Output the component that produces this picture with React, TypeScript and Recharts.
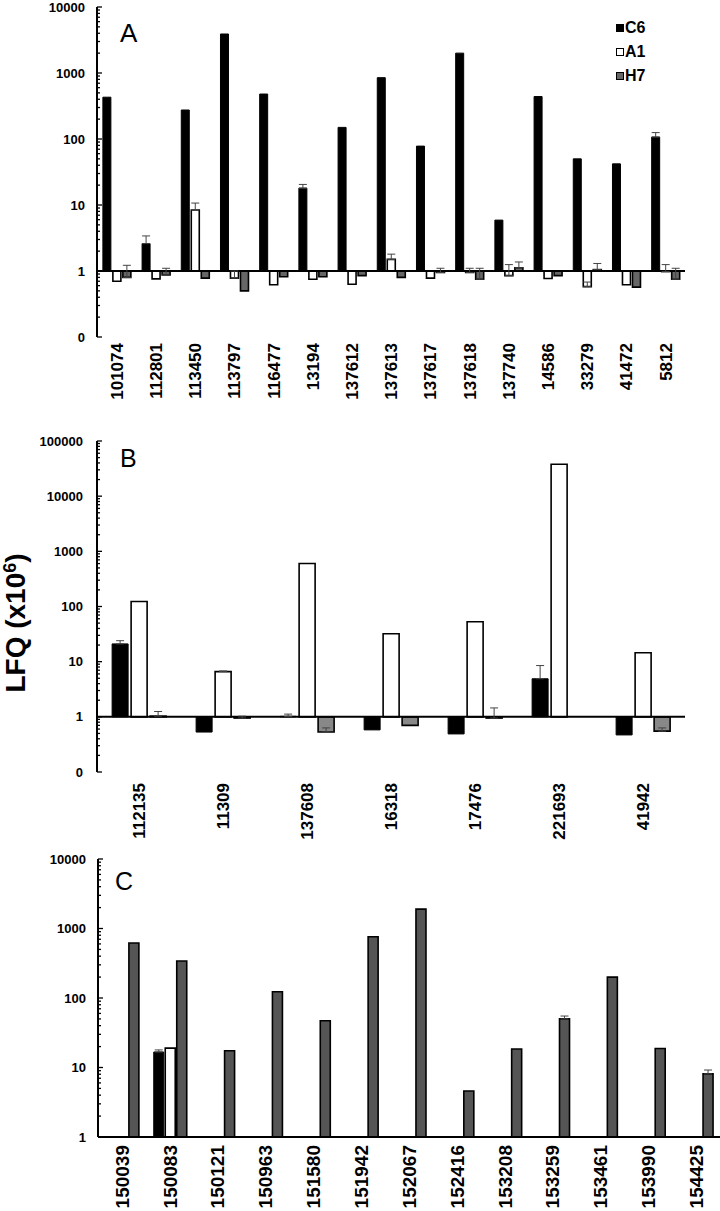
import { BarChart, Bar, XAxis, YAxis, ErrorBar, ReferenceLine, Legend } from 'recharts'

const FONT = '"Liberation Sans", Arial, sans-serif'

// Panel A
const catsA = ['101074', '112801', '113450', '113797', '116477', '13194', '137612', '137613', '137617', '137618', '137740', '14586', '33279', '41472', '5812']
const c6A = [430, 2.6, 275, 3900, 480, 18, 150, 850, 78, 2000, 5.9, 440, 50, 42, 107]
const a1A = [0.7, 0.76, 8.4, 0.78, 0.62, 0.75, 0.63, 1.5, 0.78, 0.95, 0.85, 0.77, 0.58, 0.62, 0.98]
const h7A = [0.8, 0.87, 0.78, 0.5, 0.82, 0.82, 0.85, 0.8, 0.95, 0.75, 1.12, 0.85, 1.05, 0.57, 0.75]
const errC6A = [0, 0.8, 0, 0, 0, 2.5, 0, 0, 0, 0, 0, 0, 0, 0, 18]
const errA1A = [0, 0, 2.3, 0.22, 0, 0, 0, 0.3, 0, 0.15, 0.4, 0, 0.1, 0, 0.27]
const errH7A = [0.42, 0.23, 0, 0, 0, 0, 0, 0, 0.15, 0.35, 0.25, 0, 0.25, 0, 0.35]
const ticksA = [0.1, 1, 10, 100, 1000, 10000]

// Panel B
const catsB = ['112135', '11309', '137608', '16318', '17476', '221693', '41942']
const c6B = [21, 0.53, 1.02, 0.58, 0.49, 4.9, 0.47]
const a1B = [123, 6.6, 600, 32, 53, 38000, 14.5]
const h7B = [1.03, 0.95, 0.53, 0.7, 0.95, null, 0.55]
const errC6B = [3, 0, 0.1, 0, 0, 3.6, 0]
const errA1B = [0, 0.2, 0, 0, 0, 0, 0]
const errH7B = [0.22, 0.08, 0.1, 0, 0.5, 0, 0.08]
const ticksB = [0.1, 1, 10, 100, 1000, 10000, 100000]

// Panel C
const catsC = ['150039', '150083', '150121', '150963', '151580', '151942', '152067', '152416', '153208', '153259', '153461', '153990', '154425']
const c6C = [null, 16.7, null, null, null, null, null, null, null, null, null, null, null]
const a1C = [null, 19, null, null, null, null, null, null, null, null, null, null, null]
const h7C = [620, 340, 17.4, 123, 47, 760, 1900, 4.6, 18.5, 50, 200, 18.8, 8.1]
const errC6C = [0, 1.2, 0, 0, 0, 0, 0, 0, 0, 0, 0, 0, 0]
const errA1C = [0, 0, 0, 0, 0, 0, 0, 0, 0, 0, 0, 0, 0]
const errH7C = [0, 0, 0, 0, 0, 0, 0, 0, 0, 5, 0, 0, 1.1]
const ticksC = [1, 10, 100, 1000, 10000]

const seriesNames = ['C6', 'A1', 'H7']

type Num = number | null

// bars start at 1 (log baseline), so each value becomes a [1, v] range
function buildRows(cats: string[], c6: Num[], a1: Num[], h7: Num[], e1: number[], e2: number[], e3: number[]) {
  const rng = (v: Num) => (v == null ? null : [1, v])
  const err = (e: number) => (e ? [0, e] : null)
  return cats.map((name, i) => ({
    name,
    C6: rng(c6[i]),
    A1: rng(a1[i]),
    H7: rng(h7[i]),
    eC6: err(e1[i]),
    eA1: err(e2[i]),
    eH7: err(e3[i]),
  }))
}

// minor log ticks between decades
function withMinor(decades: number[]) {
  const out: number[] = []
  decades.forEach((d, i) => {
    out.push(d)
    if (i < decades.length - 1) for (let k = 2; k <= 9; k++) out.push(+(d * k).toPrecision(3))
  })
  return out
}

const LogTick = (props: any) => {
  const { x, y, payload, decades, gap } = props
  const v = payload.value
  const major = decades.includes(v)
  const ax = x + gap
  return (
    <g>
      <line x1={ax} x2={ax + (major ? 5 : 3)} y1={y} y2={y} stroke="#000" strokeWidth={1.3} />
      {major && (
        <text x={x} y={y} dy="0.35em" textAnchor="end" fontFamily={FONT} fontWeight="bold" fontSize={13} fill="#000">
          {v < 1 ? '0' : String(v)}
        </text>
      )}
    </g>
  )
}

const RotTick = (props: any) => {
  const { x, y, payload, fontSize } = props
  return (
    <text
      x={x}
      y={y}
      dy="0.36em"
      transform={`rotate(-90, ${x}, ${y})`}
      textAnchor="end"
      fontFamily={FONT}
      fontWeight="bold"
      fontSize={fontSize}
      fill="#000"
    >
      {payload.value}
    </text>
  )
}

const legendFill: Record<string, string> = { C6: '#000', A1: '#fff', H7: '#666' }

// fixed order C6, A1, H7 as in the figure
const LegendBox = () => (
  <div style={{ fontFamily: FONT, fontWeight: 'bold', fontSize: 16, color: '#000' }}>
    {seriesNames.map((n) => (
      <div key={n} style={{ display: 'flex', alignItems: 'center', height: 24 }}>
        <span
          style={{
            width: 8,
            height: 8,
            background: legendFill[n],
            border: '1.5px solid #000',
            boxSizing: 'border-box',
            marginRight: 1,
          }}
        />
        {n}
      </div>
    ))}
  </div>
)

interface PanelProps {
  rows: any[]
  decades: number[]
  height: number
  margin: { top: number; right: number; left: number; bottom: number }
  yWidth: number
  xHeight: number
  labelGap: number
  xMargin: number
  xFont: number
  barGap: number
  catGap: string
  h7Fill: string
  baseline: boolean
  legend?: boolean
}

function Panel(p: PanelProps) {
  const domain = [p.decades[0], p.decades[p.decades.length - 1]]
  return (
    <BarChart width={720} height={p.height} data={p.rows} margin={p.margin} barGap={p.barGap} barCategoryGap={p.catGap}>
      <XAxis
        dataKey="name"
        interval={0}
        height={p.xHeight}
        tickLine={false}
        tickSize={0}
        tickMargin={p.xMargin}
        axisLine={p.baseline ? false : { stroke: '#000', strokeWidth: 2 }}
        tick={<RotTick fontSize={p.xFont} />}
      />
      <YAxis
        type="number"
        scale="log"
        domain={domain}
        allowDataOverflow
        ticks={withMinor(p.decades)}
        interval={0}
        width={p.yWidth}
        tickLine={false}
        tickSize={0}
        tickMargin={p.labelGap}
        axisLine={{ stroke: '#000', strokeWidth: 2 }}
        tick={<LogTick decades={p.decades} gap={p.labelGap} />}
      />
      {p.baseline && <ReferenceLine y={1} stroke="#000" strokeWidth={2} />}
      {p.legend && (
        <Legend
          layout="horizontal"
          verticalAlign="middle"
          align="center"
          wrapperStyle={{ top: 16, left: 616, width: 60 }}
          content={<LegendBox />}
        />
      )}
      <Bar dataKey="C6" fill="#000" stroke="#000" strokeWidth={1} isAnimationActive={false}>
        <ErrorBar dataKey="eC6" width={4} stroke="#444" strokeWidth={1} />
      </Bar>
      <Bar dataKey="A1" fill="#fff" stroke="#000" strokeWidth={1.6} isAnimationActive={false}>
        <ErrorBar dataKey="eA1" width={4} stroke="#444" strokeWidth={1} />
      </Bar>
      <Bar dataKey="H7" fill={p.h7Fill} stroke="#000" strokeWidth={1.6} isAnimationActive={false}>
        <ErrorBar dataKey="eH7" width={4} stroke="#444" strokeWidth={1} />
      </Bar>
    </BarChart>
  )
}

export default function App() {
  const rowsA = buildRows(catsA, c6A, a1A, h7A, errC6A, errA1A, errH7A)
  const rowsB = buildRows(catsB, c6B, a1B, h7B, errC6B, errA1B, errH7B)
  const rowsC = buildRows(catsC, c6C, a1C, h7C, errC6C, errA1C, errH7C)

  return (
    <div style={{ position: 'absolute', left: 0, top: 0, width: 720, height: 1211, background: '#fff', fontFamily: FONT }}>
      <div style={{ position: 'absolute', left: 0, top: 0 }}>
        <Panel
          rows={rowsA}
          decades={ticksA}
          height={410}
          margin={{ top: 7, right: 35, left: 0, bottom: 0 }}
          yWidth={97}
          xHeight={73}
          labelGap={12}
          xMargin={6}
          xFont={17}
          barGap={2}
          catGap="15%"
          h7Fill="#666"
          baseline
          legend
        />
      </div>
      <div style={{ position: 'absolute', left: 0, top: 430 }}>
        <Panel
          rows={rowsB}
          decades={ticksB}
          height={420}
          margin={{ top: 11, right: 35, left: 0, bottom: 0 }}
          yWidth={97}
          xHeight={78}
          labelGap={14}
          xMargin={11}
          xFont={17}
          barGap={3}
          catGap="18%"
          h7Fill="#888"
          baseline
        />
      </div>
      <div style={{ position: 'absolute', left: 0, top: 850 }}>
        <Panel
          rows={rowsC}
          decades={ticksC}
          height={361}
          margin={{ top: 9, right: 0, left: 0, bottom: 0 }}
          yWidth={98}
          xHeight={74}
          labelGap={12}
          xMargin={8}
          xFont={19}
          barGap={1.5}
          catGap="16.5%"
          h7Fill="#555"
          baseline={false}
        />
      </div>
      <svg width={720} height={1211} style={{ position: 'absolute', left: 0, top: 0, pointerEvents: 'none' }}>
        <text x={120} y={42} fontSize={26} fontFamily={FONT} fill="#000">A</text>
        <text x={120} y={467} fontSize={25} fontFamily={FONT} fill="#000">B</text>
        <text x={115} y={890} fontSize={25} fontFamily={FONT} fill="#000">C</text>
        <text
          x={25}
          y={623}
          transform="rotate(-90, 25, 623)"
          textAnchor="middle"
          fontSize={28}
          fontWeight="bold"
          fontFamily={FONT}
          fill="#000"
        >
          LFQ (x10
          <tspan dy={-9} fontSize={18}>6</tspan>
          <tspan dy={9}>)</tspan>
        </text>
      </svg>
    </div>
  )
}
